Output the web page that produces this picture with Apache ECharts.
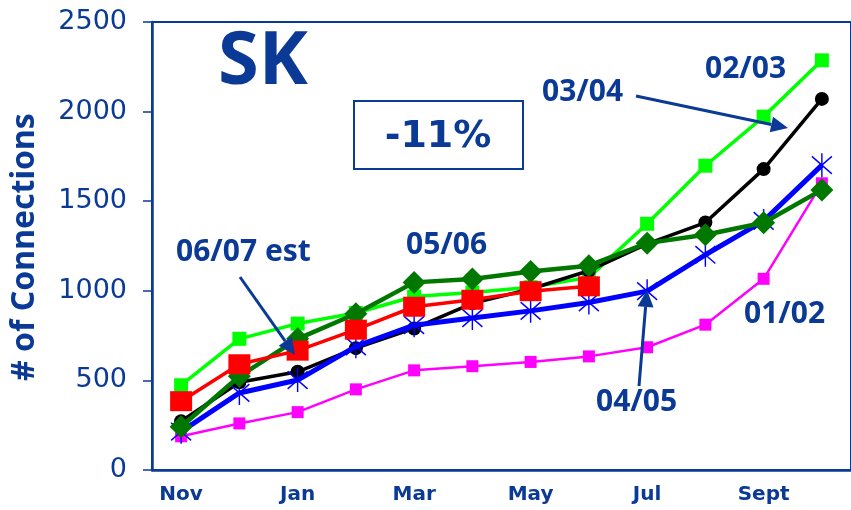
<!DOCTYPE html>
<html>
<head>
<meta charset="utf-8">
<script src="https://cdn.jsdelivr.net/npm/echarts@6/dist/echarts.min.js"></script>
<style>
  html, body { margin: 0; padding: 0; background: #fff; }
  #chart { width: 851px; height: 510px; }
</style>
</head>
<body>
<div id="chart"></div>
<script>
// months, Nov -> Oct
const months = ['Nov', 'Dec', 'Jan', 'Feb', 'Mar', 'Apr', 'May', 'Jun', 'Jul', 'Aug', 'Sept', 'Oct']
const yTicks = [0, 500, 1000, 1500, 2000, 2500]

// cumulative connections per season
const s0102 = [188, 260, 323, 450, 556, 579, 603, 634, 685, 811, 1067, 1600]
const s0203 = [473, 732, 817, 876, 968, 990, 1020, 1075, 1374, 1698, 1972, 2286]
const s0304 = [272, 490, 548, 680, 790, 930, 1010, 1112, 1262, 1381, 1679, 2071]
const s0405 = [214, 430, 502, 690, 808, 848, 888, 935, 998, 1201, 1390, 1701]
const s0506 = [241, 523, 732, 872, 1047, 1066, 1108, 1140, 1266, 1313, 1380, 1563]
const s0607 = [384, 590, 666, 783, 911, 950, 998, 1025]

const navy = '#0a3a96'
const axisBlue = '#0a3a96'
const star = 'path://M-10,-8L10,8M-10,8L10,-8M0,-11L0,11'

function arrow (x1, y1, x2, y2) {
  const ang = Math.atan2(y2 - y1, x2 - x1)
  const len = 17, half = 8
  const bx = x2 - len * Math.cos(ang), by = y2 - len * Math.sin(ang)
  const px = -Math.sin(ang) * half, py = Math.cos(ang) * half
  return [
    { type: 'line', shape: { x1, y1, x2: bx, y2: by }, style: { stroke: navy, lineWidth: 3 }, z: 100 },
    { type: 'polygon', shape: { points: [[x2, y2], [bx + px, by + py], [bx - px, by - py]] }, style: { fill: navy }, z: 100 }
  ]
}

function label (text, x, y, size, extra) {
  return Object.assign({
    type: 'text', x, y, z: 100,
    style: { text, fill: navy, font: `bold ${size}px "Noto Sans", sans-serif`, textAlign: 'left', textVerticalAlign: 'top' }
  }, extra || {})
}

const chart = echarts.init(document.getElementById('chart'))
const option = {
  animation: false,
  grid: { left: 152, right: -3, top: 22, bottom: 40, show: true, borderColor: axisBlue, borderWidth: 2 },
  xAxis: {
    type: 'category',
    data: months,
    boundaryGap: true,
    axisLine: { lineStyle: { color: axisBlue, width: 2.5 } },
    axisTick: { interval: 0, length: 5, lineStyle: { color: axisBlue, width: 1.5 } },
    axisLabel: {
      interval: 1,
      color: navy,
      fontFamily: 'DejaVu Sans',
      fontWeight: 'bold',
      fontSize: 20,
      margin: 15
    },
    splitLine: { show: false }
  },
  yAxis: {
    type: 'value',
    min: yTicks[0],
    max: yTicks[yTicks.length - 1],
    interval: 500,
    axisLine: { show: true, lineStyle: { color: axisBlue, width: 2.5 } },
    axisTick: { show: true, length: 9, lineStyle: { color: axisBlue, width: 1.5 } },
    axisLabel: { color: navy, fontFamily: 'DejaVu Sans', fontSize: 27, margin: 25, formatter: v => String(v) },
    splitLine: { show: false }
  },
  series: [
    {
      name: '01/02', type: 'line', data: s0102, z: 2,
      symbol: 'rect', symbolSize: 12,
      lineStyle: { color: '#ff00ff', width: 2.5 },
      itemStyle: { color: '#ff00ff' }
    },
    {
      name: '02/03', type: 'line', data: s0203, z: 3,
      symbol: 'rect', symbolSize: 14,
      lineStyle: { color: '#00ff00', width: 3.5 },
      itemStyle: { color: '#00ff00' }
    },
    {
      name: '03/04', type: 'line', data: s0304, z: 4,
      symbol: 'circle', symbolSize: 14,
      lineStyle: { color: '#000000', width: 3.5 },
      itemStyle: { color: '#000000' }
    },
    {
      name: '04/05', type: 'line', data: s0405, z: 5,
      symbol: star, symbolSize: [22, 24], symbolKeepAspect: true,
      lineStyle: { color: '#0000ff', width: 5 },
      itemStyle: { color: 'rgba(0,0,0,0)', borderColor: '#0000ff', borderWidth: 1.5 }
    },
    {
      name: '05/06', type: 'line', data: s0506, z: 6,
      symbol: 'diamond', symbolSize: 23,
      lineStyle: { color: '#007800', width: 4.5 },
      itemStyle: { color: '#007800' }
    },
    {
      name: '06/07 est', type: 'line', data: s0607, z: 7,
      symbol: 'rect', symbolSize: [22, 20],
      lineStyle: { color: '#ff0000', width: 3.5 },
      itemStyle: { color: '#ff0000' }
    }
  ],
  graphic: [
    {
      type: 'text', x: 25, y: 247, rotation: Math.PI / 2, z: 100,
      style: { text: '# of Connections', fill: navy, font: 'bold 32px "Noto Sans", sans-serif', textAlign: 'center', textVerticalAlign: 'middle' }
    },
    label('SK', 218, 26, 74),
    { type: 'rect', shape: { x: 354, y: 101, width: 169, height: 68 }, style: { fill: '#fff', stroke: navy, lineWidth: 2 }, z: 90 },
    {
      type: 'text', x: 438, y: 137, z: 100,
      style: { text: '-11%', fill: navy, font: 'bold 38px "DejaVu Sans", sans-serif', textAlign: 'center', textVerticalAlign: 'middle' }
    },
    label('03/04', 542, 77, 30),
    label('02/03', 705, 54, 30),
    label('05/06', 406, 230, 30),
    label('06/07 est', 176, 237, 30),
    label('04/05', 596, 387, 30),
    label('01/02', 744, 299, 30),
    ...arrow(636, 96, 788, 128),
    ...arrow(240, 277, 295, 355),
    ...arrow(639, 386, 647, 290)
  ]
}
chart.setOption(option)
</script>
</body>
</html>
